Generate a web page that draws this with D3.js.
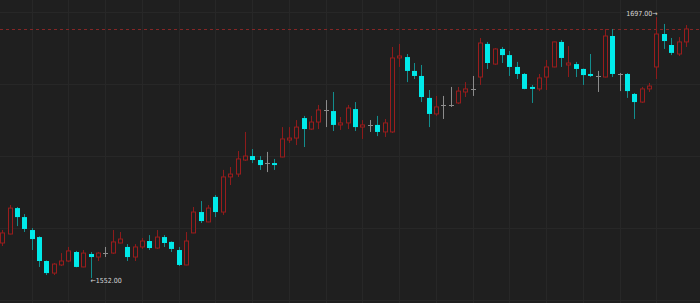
<!DOCTYPE html>
<html>
<head>
<meta charset="utf-8">
<script src="https://cdn.jsdelivr.net/npm/d3@7"></script>
<style>
html,body{margin:0;padding:0;background:#1f1f1f;overflow:hidden;}
svg{display:block;}
</style>
</head>
<body>
<svg id="chart" width="700" height="303"></svg>
<script>
const opens  = [1571.5,1576.5,1590.9,1585.9,1578.7,1574.8,1561.5,1554.8,1559.3,1561.5,1566.5,1558.2,1565.4,1563.7,1565.9,1565.9,1571.5,1569.3,1563.7,1569.3,1572.6,1568.7,1574.8,1572.1,1567.6,1559.3,1577.1,1588.7,1583.2,1597.1,1588.7,1608.2,1609.8,1617.6,1619.8,1617.6,1615.9,1615.9,1619.3,1628.7,1629.8,1640.9,1634.8,1638.7,1645.4,1644.8,1637.1,1638.2,1645.9,1635.9,1637.1,1637.1,1633.2,1633.2,1674.3,1674.8,1667.1,1664.3,1652.1,1643.2,1648.2,1648.2,1649.3,1655.4,1657.1,1663.7,1682.1,1670.9,1679.3,1675.9,1669.3,1665.4,1658.2,1657.1,1663.7,1669.3,1683.2,1670.4,1670.9,1668.2,1665.4,1664.3,1663.7,1686.5,1665.4,1665.4,1654.3,1649.8,1657.1,1669.3,1687.6,1681.5,1676.5,1683.2];
const highs  = [1578.7,1592.6,1591.5,1587.6,1579.8,1575.2,1561.8,1560.4,1565.9,1569.3,1567.1,1567.6,1566.5,1566.5,1569.3,1578.7,1577.6,1570.9,1570.9,1574.3,1575.9,1578.7,1575.9,1572.4,1569.3,1577.6,1591.5,1594.8,1592.6,1598.2,1612.1,1613.7,1622.6,1633.2,1623.7,1619.8,1622.1,1618.2,1635.9,1635.9,1639.8,1642.1,1642.1,1648.2,1650.9,1655.4,1641.5,1648.2,1649.8,1639.8,1639.8,1642.1,1640.4,1680.4,1682.1,1676.5,1671.5,1670.4,1656.5,1653.2,1653.2,1658.2,1658.2,1660.9,1664.3,1685.4,1683.2,1679.8,1680.4,1678.2,1672.1,1665.9,1659.3,1665.4,1673.2,1683.4,1684.3,1680.9,1672.1,1668.4,1676.5,1667.1,1690.4,1690.4,1665.9,1665.9,1654.8,1658.2,1660.4,1697.0,1693.2,1685.4,1685.9,1692.6];
const lows   = [1569.8,1576.3,1580.9,1577.6,1567.6,1558.2,1553.7,1553.7,1558.7,1560.9,1558.0,1558.0,1552.0,1561.5,1563.7,1565.4,1571.3,1561.5,1561.5,1568.2,1567.6,1568.2,1569.3,1566.5,1558.7,1559.1,1576.9,1582.6,1583.0,1585.9,1587.1,1603.7,1608.2,1617.1,1615.9,1612.1,1610.9,1612.1,1619.1,1627.1,1625.9,1624.8,1634.3,1634.8,1635.9,1633.7,1634.3,1634.8,1633.7,1629.3,1633.2,1630.9,1630.4,1632.6,1669.3,1660.9,1662.6,1649.8,1635.9,1642.1,1640.4,1647.1,1648.7,1652.6,1653.2,1659.3,1668.2,1670.4,1671.5,1664.3,1662.6,1656.9,1649.3,1655.9,1656.5,1669.1,1669.3,1663.7,1663.7,1659.3,1663.7,1655.4,1663.5,1663.7,1655.9,1652.1,1640.4,1649.3,1655.4,1662.6,1679.3,1675.9,1675.4,1680.4];
const closes = [1577.1,1590.9,1585.9,1579.3,1573.7,1561.5,1554.8,1559.8,1561.5,1567.1,1558.2,1565.9,1563.7,1565.9,1565.9,1572.1,1573.7,1563.7,1569.3,1572.6,1568.7,1574.8,1571.5,1568.2,1559.3,1572.6,1588.7,1583.7,1590.9,1588.7,1608.2,1609.8,1618.2,1619.8,1617.6,1614.8,1615.9,1614.8,1629.3,1629.8,1635.9,1634.8,1638.7,1645.4,1645.4,1637.1,1638.2,1646.5,1635.9,1637.1,1637.1,1633.2,1638.2,1674.3,1675.4,1667.1,1664.3,1652.6,1643.2,1647.1,1648.2,1648.2,1655.9,1657.1,1657.1,1682.6,1671.5,1679.3,1675.9,1669.3,1665.4,1657.1,1657.1,1663.2,1669.3,1683.2,1674.3,1671.5,1668.2,1664.8,1664.3,1664.3,1686.5,1665.4,1665.4,1655.9,1649.8,1657.1,1658.7,1687.6,1683.7,1677.1,1683.2,1690.4];
const priceTicks = [1540, 1580, 1620, 1660, 1700];
const gridEvery = 5, gridStart = 4;
const lastPrice = 1690.4;
const highLabel = "1697.00→";
const lowLabel = "←1552.00";

const W = 700, H = 303;
const n = opens.length;
const svg = d3.select("#chart");
const x = d3.scaleLinear().domain([0, n - 1]).range([2.3, 685.9]);
const y = d3.scaleLinear().domain([1540, 1700]).range([299.7, 11.7]);

const UP = "#9a1d1d", UPW = "#8e1b1b";
const DN = "#00eaea", DNW = "#138d8d";
const DJ = "#8c8c8c";
const BG = "#1f1f1f";

// grid
const g = svg.append("g");
g.selectAll(".hg").data(priceTicks).join("line")
  .attr("x1", 0).attr("x2", W)
  .attr("y1", d => Math.round(y(d)) + 0.5).attr("y2", d => Math.round(y(d)) + 0.5)
  .attr("stroke", "#272727").attr("stroke-width", 1);
const vIdx = d3.range(gridStart, n, gridEvery);
g.selectAll(".vg").data(vIdx).join("line")
  .attr("y1", 0).attr("y2", H)
  .attr("x1", d => Math.round(x(d)) + 0.5).attr("x2", d => Math.round(x(d)) + 0.5)
  .attr("stroke", "#272727").attr("stroke-width", 1);

// last price dashed line
svg.append("line")
  .attr("x1", 0).attr("x2", W)
  .attr("y1", Math.round(y(lastPrice)) + 0.5).attr("y2", Math.round(y(lastPrice)) + 0.5)
  .attr("stroke", "#842626").attr("stroke-width", 1).attr("stroke-dasharray", "3,3");

const data = d3.range(n).map(i => ({i, o: opens[i], h: highs[i], l: lows[i], c: closes[i]}));
const kind = d => d.c > d.o ? "up" : (d.c < d.o ? "dn" : "dj");
const bw = 4;

const cg = svg.append("g");
// wicks
cg.selectAll(".wick").data(data).join("line")
  .attr("x1", d => Math.round(x(d.i)) + 0.5).attr("x2", d => Math.round(x(d.i)) + 0.5)
  .attr("y1", d => y(d.h)).attr("y2", d => y(d.l))
  .attr("stroke", d => ({up: UPW, dn: DNW, dj: DJ})[kind(d)]).attr("stroke-width", 1);

// up bodies (hollow)
cg.selectAll(".upb").data(data.filter(d => kind(d) === "up")).join("rect")
  .attr("x", d => Math.round(x(d.i)) - 1.5)
  .attr("y", d => y(d.c))
  .attr("width", bw)
  .attr("height", d => Math.max(1, y(d.o) - y(d.c)))
  .attr("fill", BG).attr("stroke", UP).attr("stroke-width", 1);

// down bodies (filled)
cg.selectAll(".dnb").data(data.filter(d => kind(d) === "dn")).join("rect")
  .attr("x", d => Math.round(x(d.i)) - 2)
  .attr("y", d => y(d.o))
  .attr("width", bw + 1)
  .attr("height", d => Math.max(1.5, y(d.c) - y(d.o)))
  .attr("fill", DN);

// doji
cg.selectAll(".djb").data(data.filter(d => kind(d) === "dj")).join("line")
  .attr("x1", d => Math.round(x(d.i)) - 2).attr("x2", d => Math.round(x(d.i)) + 3)
  .attr("y1", d => Math.round(y(d.o)) + 0.5).attr("y2", d => Math.round(y(d.o)) + 0.5)
  .attr("stroke", DJ).attr("stroke-width", 1);

// extreme labels
const hiIdx = d3.maxIndex(highs), loIdx = d3.minIndex(lows);
const font = "'DejaVu Sans Condensed', 'DejaVu Sans', sans-serif";
svg.append("text")
  .attr("x", x(hiIdx) + 1).attr("y", y(highs[hiIdx]) - 1)
  .attr("text-anchor", "end")
  .attr("font-family", font).attr("font-size", 7)
  .attr("fill", "#d8d8d8").text(highLabel);
svg.append("text")
  .attr("x", x(loIdx)).attr("y", y(lows[loIdx]) + 5)
  .attr("text-anchor", "start")
  .attr("font-family", font).attr("font-size", 7)
  .attr("fill", "#d8d8d8").text(lowLabel);
</script>
</body>
</html>
